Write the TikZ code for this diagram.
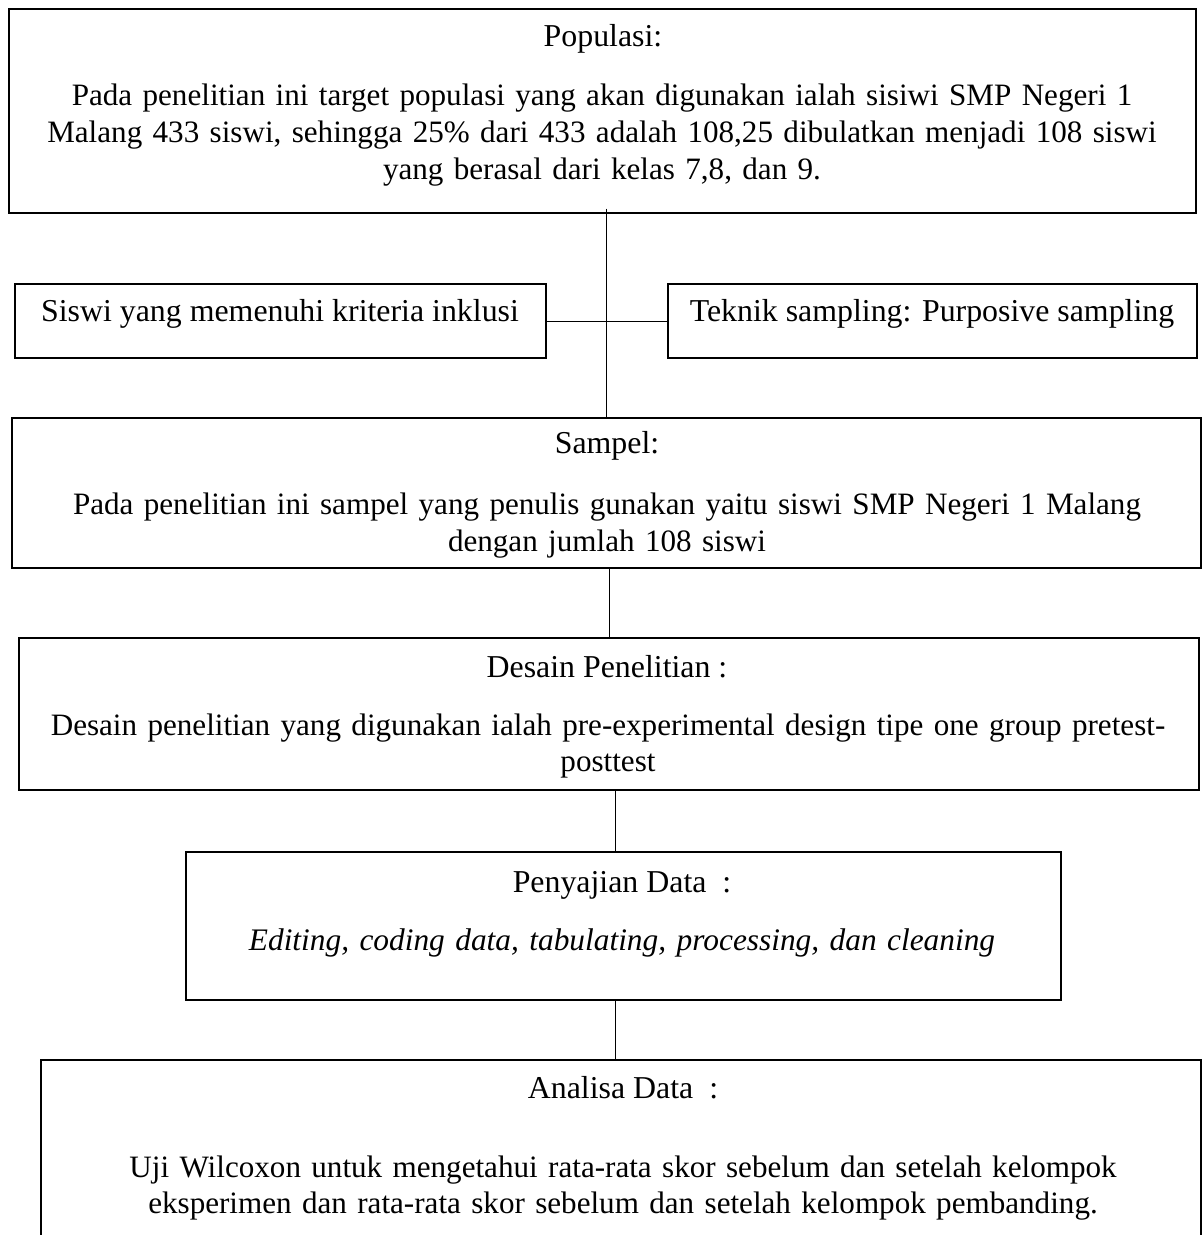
\documentclass[tikz,border=0pt]{standalone}
\usepackage{fontspec}
\setmainfont{Liberation Serif}
\usetikzlibrary{fit,positioning}

\tikzset{
    kotak/.style={draw, line width=0.5pt, inner sep=0pt},
    judul/.style={anchor=base, inner sep=0pt, font=\fontsize{12.9}{14.8}\selectfont},
    isi/.style={anchor=base, inner sep=0pt, align=center, text width=#1,
        font=\fontsize{12.6}{14.8}\selectfont},
    garis/.style={line width=0.4pt},
}

\begin{document}
\begin{tikzpicture}[x=0.405pt, y=-0.405pt]
    \useasboundingbox (0,0) rectangle (1203,1235);
    \clip (0,0) rectangle (1203,1235);
    %\draw[help lines] (0,0) grid (1203,1235);
    % kotak-kotak
    \node[kotak, fit={(9,9) (1196,213)}] (populasi) {};
    \node[kotak, fit={(15,284) (546,358)}] (inklusi) {};
    \node[kotak, fit={(668,284) (1197,358)}] (teknik) {};
    \node[kotak, fit={(12,418) (1201,568)}] (sampel) {};
    \node[kotak, fit={(19,638) (1199,790)}] (desain) {};
    \node[kotak, fit={(186,852) (1061,1000)}] (penyajian) {};
    \node[kotak, fit={(41,1060) (1201,1300)}] (analisa) {}; % terpotong di bawah
    % teks
    \node[judul] (populasi-j) at (603,47) {Populasi:};
    \node[isi=470pt] (populasi-t) at (602,106) {Pada penelitian ini target populasi yang akan digunakan ialah sisiwi SMP Negeri 1\\
        Malang 433 siswi, sehingga 25\% dari 433 adalah 108,25 dibulatkan menjadi 108 siswi\\
        yang berasal dari kelas 7,8, dan 9.};
    \node[judul] (inklusi-j) at (280,322) {Siswi yang memenuhi kriteria inklusi};
    \node[judul] (teknik-j) at (932,322) {Teknik sampling: Purposive sampling};
    \node[judul] (sampel-j) at (607,454) {Sampel:};
    \node[isi=470pt] (sampel-t) at (607,515) {Pada penelitian ini sampel yang penulis gunakan yaitu siswi SMP Negeri 1 Malang\\
        dengan jumlah 108 siswi};
    \node[judul] (desain-j) at (607,677) {Desain Penelitian :};
    \node[isi=475pt] (desain-t) at (608,735) {Desain penelitian yang digunakan ialah pre-experimental design tipe one group pretest-\\
        posttest};
    \node[judul] (penyajian-j) at (622,892) {Penyajian Data~~:};
    \node[isi=350pt, font=\fontsize{12.7}{14.8}\selectfont\itshape] (penyajian-t) at (622,950)
        {Editing, coding data, tabulating, processing, dan cleaning};
    \node[judul] (analisa-j) at (623,1098) {Analisa Data~~:};
    \node[isi=460pt] (analisa-t) at (623,1177) {Uji Wilcoxon untuk mengetahui rata-rata skor sebelum dan setelah kelompok\\
        eksperimen dan rata-rata skor sebelum dan setelah kelompok pembanding.};
    % garis penghubung
    \coordinate (poros) at (615,0);
    \draw[garis] (sampel.north |- populasi.south) ++(0,-5) -- (sampel.north);
    \draw[garis] (inklusi.east) -- (teknik.west);
    \draw[garis] (desain.north |- sampel.south) -- (desain.north);
    \draw[garis] (poros |- desain.south) -- (poros |- penyajian.north);
    \draw[garis] (poros |- penyajian.south) -- (poros |- analisa.north);
\end{tikzpicture}
\end{document}
